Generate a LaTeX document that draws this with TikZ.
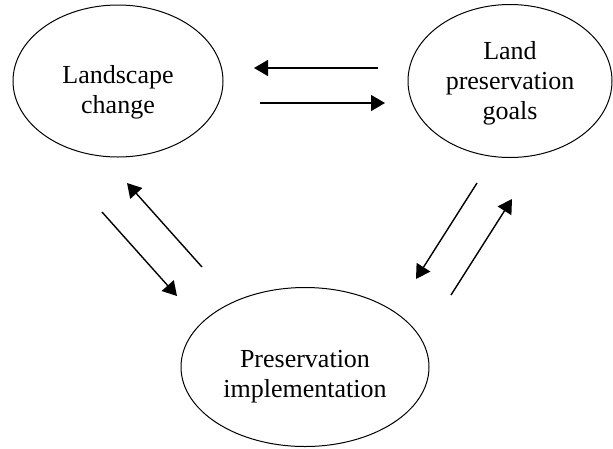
\documentclass[tikz,border=0pt]{standalone}
\usepackage{fontspec}
\setmainfont{Liberation Serif}
\usetikzlibrary{shapes.geometric,arrows.meta}
\begin{document}
\begin{tikzpicture}[x=1pt,y=-1pt,
  oval/.style={ellipse,draw,line width=1pt,inner sep=0pt},
  lbl/.style={align=center,inner sep=0pt,font=\fontsize{26}{30}\selectfont},
  arr/.style={line width=1.4pt,-{Triangle[length=14pt,width=16pt]}}]
\useasboundingbox (0,0) rectangle (613,448);
% ellipses
\node[oval,minimum width=210pt,minimum height=152pt] (lc) at (118,81) {};
\node[oval,minimum width=204pt,minimum height=153pt] (lp) at (510,81) {};
\node[oval,minimum width=248pt,minimum height=159pt] (pi) at (305,367) {};
% labels
\node[lbl] (lct) at (118,92) {Landscape\\change};
\node[lbl] (lpt) at (510,83) {Land\\preservation\\goals};
\node[lbl] (pit) at (305,377) {Preservation\\implementation};
% arrow end points
\coordinate (t1a) at (378,68);  \coordinate (t1b) at (254,68);
\coordinate (t2a) at (260,103); \coordinate (t2b) at (385,103);
\coordinate (l1a) at (202,267); \coordinate (l1b) at (127,183);
\coordinate (l2a) at (102,212); \coordinate (l2b) at (177,296);
\coordinate (r1a) at (477,183); \coordinate (r1b) at (416,279);
\coordinate (r2a) at (451,295); \coordinate (r2b) at (512,199);
% arrows
\draw[arr] (t1a) -- (t1b);
\draw[arr] (t2a) -- (t2b);
\draw[arr] (l1a) -- (l1b);
\draw[arr] (l2a) -- (l2b);
\draw[arr] (r1a) -- (r1b);
\draw[arr] (r2a) -- (r2b);
\end{tikzpicture}
\end{document}
